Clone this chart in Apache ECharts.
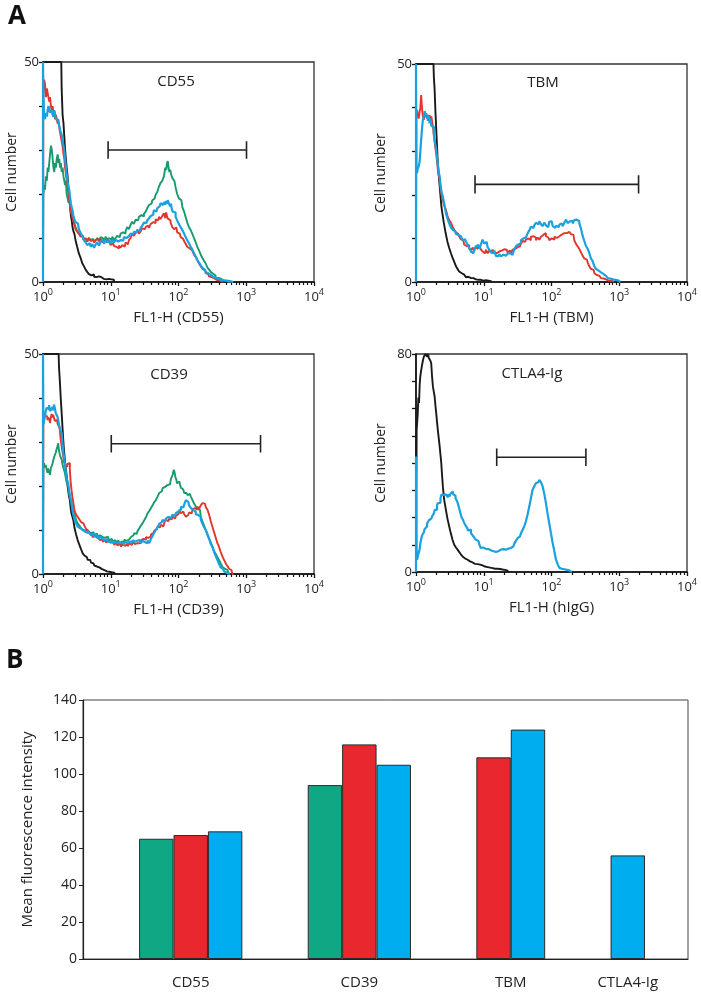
<!DOCTYPE html>
<html><head><meta charset="utf-8">
<script src="https://cdn.jsdelivr.net/npm/echarts@6/dist/echarts.min.js"></script>
<style>html,body{margin:0;padding:0;background:#fff}#c{width:701px;height:998px}</style>
</head><body><div id="c"></div>
<script>
// ---------- Panel A: flow cytometry histograms (x = FL1-H log channel, 0..1024 = 10^0..10^4) ----------
const panelTitles = ['CD55', 'TBM', 'CD39', 'CTLA4-Ig'];
const xAxisNames = ['FL1-H (CD55)', 'FL1-H (TBM)', 'FL1-H (CD39)', 'FL1-H (hIgG)'];
const yMaxes = [50, 50, 50, 80];
const decadeChannels = [0, 256, 512, 768, 1024];

const cd55Black = [[0,0],[0,50],[69,50],[72,44],[76,38],[79,36],[82,33],[85,30],[88,28],[91,26],[95,24],[98,21],[101,19],[104,17],[107,15],[110,14],[113,12.5],[117,11.5],[120,11],[126,9.5],[132,8],[139,6.5],[145,5.5],[151,4.3],[158,3.6],[164,2.8],[170,2.3],[177,1.8],[183,1.5],[190,1.7],[196,1.2],[202,1.1],[208,1.3],[215,0.9],[221,1.1],[227,0.7],[234,0.8],[240,0.6],[246,0.7],[252,0.5],[259,0.6],[265,0.5],[271,0]];
const cd55Green = [[0,0],[3,20],[6,22],[9,21],[13,24],[16,23],[19,26],[22,25],[25,27],[28,29],[32,31],[35,30],[38,28],[41,26],[44,25],[47,27],[50,26],[54,28],[57,29],[60,27],[63,28],[66,26],[69,27],[72,25],[76,26],[79,24],[82,23],[85,22],[88,23],[91,20],[95,19],[98,18],[101,18.6],[104,17],[107,16],[110,15.6],[113,15],[116,14],[120,13.5],[126,12.5],[132,11.5],[139,11],[145,10.3],[151,10.5],[158,9.5],[164,10],[170,9.2],[177,10],[183,9.5],[190,9.8],[196,9],[202,9.5],[208,10],[215,9.4],[221,10.2],[227,9.9],[234,9.2],[240,10.3],[246,9.5],[252,10],[259,9.6],[265,10.3],[271,9.5],[277,10],[284,10.5],[290,10.2],[296,11],[303,11.3],[309,11],[315,11.5],[321,12.5],[328,12],[334,13],[340,13.7],[347,13.2],[353,14.2],[359,14],[366,14.8],[372,15.2],[378,14.9],[385,15.5],[391,16],[397,16.8],[404,17.5],[410,17.8],[416,18.6],[422,19],[429,19.8],[435,20.5],[441,21.7],[447,22.5],[454,23],[460,24],[464,26],[467,25.5],[470,27],[473,27.5],[476,26],[479,25],[482,25.5],[485,24.7],[488,24],[492,23.5],[495,23.2],[498,23],[504,21.5],[510,20],[517,19],[523,18.6],[530,17],[536,16],[542,14.8],[548,13.5],[555,12.5],[561,11.8],[567,11],[574,10],[580,9],[586,8],[593,7.2],[599,6.2],[605,5.5],[612,4.8],[618,4.2],[624,3.3],[631,2.8],[637,2.3],[643,1.9],[649,1.5],[655,1],[662,0.9],[668,0.8],[674,0.5],[681,0.4],[694,0.2],[706,0]];
const cd55Red = [[0,0],[3,44],[6,46],[9,45],[13,42],[16,44],[19,43],[22,42.9],[25,41],[28,42],[32,40],[35,39],[38,40],[41,38],[44,39],[47,37],[50,38],[54,37.6],[57,36],[60,36.5],[63,35.3],[66,34],[69,33],[72,32],[76,30.8],[79,29],[82,28],[85,26],[88,24.7],[91,23],[95,22],[98,20],[101,19],[104,17.5],[107,16],[113,15],[120,13.5],[126,12],[132,11.5],[139,11],[145,10.5],[151,10.3],[158,9.5],[164,9.8],[170,9.2],[177,10],[183,9.3],[190,9.6],[196,9],[202,9.5],[208,9.8],[215,9.2],[221,9.8],[227,9],[234,9.5],[240,9.6],[246,9.3],[252,9.2],[259,8.4],[265,8.8],[271,8.2],[277,8],[284,7.6],[290,8.3],[296,7.8],[303,8.4],[309,8],[315,9],[321,8.6],[328,9.5],[334,10],[340,11],[347,10.5],[353,11.2],[359,11.8],[366,11],[372,11.5],[378,12.2],[385,12],[391,12.5],[397,12.8],[404,12.3],[410,13.2],[416,13.6],[422,13.4],[429,14.2],[435,14],[441,14.8],[447,14.3],[454,15],[460,15.6],[464,14.5],[467,15.8],[470,15],[473,14.4],[479,14],[485,13.5],[492,12.5],[498,12],[504,12.4],[510,11.3],[517,11],[523,10.2],[530,9.8],[536,9.3],[542,8.7],[548,8],[555,7.6],[561,7.2],[567,6.8],[574,6.2],[580,5.7],[586,5],[593,4.2],[599,3.6],[605,3],[612,2.6],[618,2],[624,1.8],[631,1.3],[637,1.1],[643,0.9],[649,0.7],[655,0.5],[662,0.4],[668,0.2],[681,0]];
const cd55Blue = [[0,0],[0,50],[3,42],[6,38],[9,37],[13,38.4],[16,37.6],[19,39],[22,40],[25,39.5],[28,38.5],[32,38.4],[35,39],[38,38],[41,37.5],[44,39],[47,38.2],[50,37],[54,37.4],[57,36.8],[60,36],[63,35.5],[66,34.5],[69,34],[72,33.5],[76,32.3],[79,31],[82,29.8],[85,28],[88,26.2],[91,24.5],[95,22.8],[98,21.5],[101,20.9],[104,19.2],[107,17.8],[110,17],[113,16.3],[117,15],[120,14.3],[126,13.6],[132,13.3],[139,12],[145,11.2],[151,10.5],[158,9.5],[164,9],[170,8.4],[177,8.8],[183,8],[190,8.6],[196,7.8],[202,8.5],[208,9],[215,8.3],[221,9.2],[227,9.5],[234,8.7],[240,9.6],[246,9],[252,9.4],[259,8.8],[265,9.5],[271,9],[277,9.6],[284,9.2],[290,9.5],[296,9.8],[303,9.4],[309,10.2],[315,10],[321,10.4],[328,10.2],[334,11],[340,10.8],[347,11.4],[353,11.2],[359,11.8],[366,11.6],[372,12.3],[378,12.8],[385,13.5],[391,13.4],[397,14],[404,14.5],[410,15],[416,15.3],[422,16.3],[429,16],[435,16.8],[441,17.2],[447,17.9],[454,17.5],[460,18.2],[464,17.6],[467,18.4],[470,17.8],[473,18.6],[476,18],[479,18.4],[482,17.2],[485,17.8],[488,16.6],[492,16],[495,15.6],[498,15.8],[504,14.8],[510,14],[517,13.2],[523,12.5],[530,11.8],[536,11],[542,10.2],[548,9.5],[555,8.8],[561,8],[567,7.4],[574,6.5],[580,5.8],[586,5],[593,4.4],[599,3.8],[605,3.2],[612,2.8],[618,2.3],[624,2],[631,1.6],[637,1.3],[643,1.2],[649,1],[655,0.8],[662,0.7],[668,0.5],[674,0.6],[681,0.4],[694,0.3],[706,0.2],[719,0]];

const tbmBlack = [[0,0],[0,50],[66,50],[69,47],[72,44],[75,39],[78,35],[81,31],[84,27.3],[88,24.5],[91,21.9],[94,19.8],[97,17.6],[100,16.2],[103,15],[107,13.6],[110,12.4],[113,11.4],[116,10.5],[122,9.2],[129,7.8],[135,6.6],[141,5.6],[148,4.6],[154,3.6],[160,3],[166,2.4],[173,2],[179,1.7],[185,1.4],[192,1.1],[198,1.2],[204,0.9],[211,0.8],[217,0.9],[223,0.6],[230,0.7],[236,0.5],[242,0.5],[248,0.6],[255,0.3],[261,0.4],[267,0.4],[274,0.3],[280,0.2],[286,0]];
const tbmRed = [[0,0],[3,38],[5,39.5],[8,38.5],[12,37.5],[15,37.2],[18,40],[21,42.9],[24,40],[28,38],[31,37.2],[34,38.5],[37,37.8],[40,38.7],[44,37.5],[47,38.3],[50,37.4],[53,38.3],[56,37],[60,38],[63,36.5],[66,35.5],[69,33.5],[72,32],[75,30.5],[78,29.5],[81,27.5],[84,25.8],[88,24.4],[91,23.4],[94,21.5],[97,20.2],[100,19.5],[103,18.9],[107,17.8],[110,17.2],[116,16.6],[122,15.2],[129,14.2],[135,13.6],[141,12.7],[148,12],[154,11.4],[160,11],[166,10.5],[173,9.8],[179,9.5],[185,8.6],[192,8.2],[198,8.5],[204,7.6],[211,7.4],[217,7.9],[223,7.2],[230,8.1],[236,7.6],[242,8.4],[248,7.5],[255,7],[261,6.6],[267,7.4],[274,6.6],[280,7.3],[286,6.8],[293,7.4],[299,6.8],[305,6.6],[311,7],[318,6.6],[324,7.2],[330,7.5],[337,7.2],[343,7.4],[349,6.8],[356,7.2],[362,6.6],[368,7.4],[375,7.6],[381,8],[387,8.4],[393,8.2],[400,8.8],[406,9.4],[412,9.2],[419,9.7],[425,10],[431,9.6],[437,10.4],[444,10.5],[450,10.2],[456,9.6],[463,10.2],[469,9.7],[475,10.4],[481,10.8],[488,11.2],[494,10.5],[500,10.2],[507,9.6],[513,10],[520,9.7],[526,10.4],[532,10.1],[539,10.5],[545,10.2],[551,10.9],[557,11.2],[564,10.8],[570,11.2],[576,11.5],[582,11.6],[589,11],[595,10.8],[601,9.6],[607,8.8],[614,8.2],[620,7.6],[627,6.8],[633,6],[639,5.4],[646,5.1],[652,4.4],[658,3.6],[664,3],[671,2.8],[677,2],[683,1.6],[690,1.4],[696,1.1],[702,0.9],[709,0.8],[715,0.6],[721,0.5],[728,0.3],[734,0.3],[747,0]];
const tbmBlue = [[0,0],[0,50],[3,26],[5,25],[8,26],[12,26.5],[15,27.5],[18,30],[21,32.6],[24,35],[28,37.2],[31,38],[34,39.2],[37,38.6],[40,39],[44,38],[47,37],[50,38.2],[53,36.4],[56,37.5],[60,35.8],[63,36.2],[66,35.6],[69,34],[72,32.5],[75,31.4],[78,30.3],[81,28.5],[84,27],[88,25.2],[91,24.2],[94,22.4],[97,21],[100,20.2],[103,19.6],[107,18.5],[110,17.4],[116,15.8],[122,14.6],[129,13.4],[135,12.5],[141,12],[148,11.6],[154,11],[160,10.8],[166,10.5],[173,10.2],[179,9.6],[185,9.8],[192,9.3],[198,8.6],[204,7.8],[211,7],[217,6.6],[223,7.5],[230,8.2],[236,8.5],[242,7.6],[248,8.6],[255,9.7],[261,8.8],[267,9.2],[274,8],[280,7.4],[286,6.8],[293,6.6],[299,7.2],[305,6],[311,5.9],[318,6.4],[324,5.9],[330,6.3],[337,6],[343,6.3],[349,6.5],[356,6.6],[362,6.2],[368,6.6],[375,7.6],[381,8.2],[387,8.6],[393,8.9],[400,9.6],[406,10],[412,10.2],[419,10.5],[425,11.2],[431,11.8],[437,12.7],[444,12.4],[450,13],[456,13.6],[463,13.2],[469,13.9],[475,13.3],[481,12.8],[488,13.6],[494,13],[500,12.6],[507,13.8],[513,13.9],[520,12.8],[526,12.4],[532,12.9],[539,12.6],[545,13.2],[551,13.4],[557,12.8],[564,13.6],[570,14.3],[576,13.5],[582,13.9],[589,14],[595,13.4],[601,14.2],[607,14.3],[614,14],[620,13.5],[627,12.2],[633,10.5],[639,9.4],[646,8.2],[652,7.6],[658,6.6],[664,5.4],[671,4.8],[677,3.6],[683,3],[690,2.6],[696,2.2],[702,2],[709,1.8],[715,1.4],[721,1.1],[728,0.9],[734,0.8],[740,0.6],[747,0.5],[753,0.5],[759,0.4],[766,0.2],[772,0]];

const cd39Black = [[0,0],[0,50],[59,50],[62,47],[65,44],[69,40],[72,36.6],[75,33.5],[78,30.5],[81,28],[84,26],[87,24.2],[90,22.9],[94,20.5],[97,18.8],[100,17.6],[103,16.8],[106,15],[109,13.8],[113,13],[116,12.3],[122,10.5],[128,9],[134,7.7],[141,6.6],[147,5.6],[153,4.7],[160,4.2],[166,3.8],[172,3.2],[178,3.2],[185,2.6],[191,2.4],[197,1.9],[204,1.7],[210,1.5],[216,1.2],[223,1.1],[229,0.9],[235,0.8],[241,0.6],[248,0.5],[254,0.4],[260,0.4],[266,0.3],[273,0]];
const cd39Green = [[0,0],[3,24],[5,25.2],[8,24.2],[12,24.8],[15,24.4],[18,23],[21,24],[25,23.7],[28,22.5],[31,24],[34,23.6],[37,25],[40,25.2],[43,26.5],[46,27],[50,27.5],[53,28.4],[56,29],[59,29.7],[62,28],[65,27.2],[69,26.5],[72,26],[75,25],[78,24.2],[81,23.7],[84,23],[87,22],[90,21],[94,20.5],[97,19.9],[100,18.5],[103,17.6],[106,17],[109,16.1],[113,15],[116,14.2],[122,13.5],[128,12.3],[134,11.5],[141,11],[147,10.4],[153,10],[160,9.8],[166,9.4],[172,9.6],[178,9.3],[185,9],[191,9.5],[197,8.8],[204,9.2],[210,8.6],[216,8.8],[223,8.4],[229,8.7],[235,8.2],[241,8.5],[248,8.1],[254,7.6],[260,8],[266,7.4],[273,7.7],[279,7.2],[285,7.6],[292,7],[298,7.4],[304,7.2],[310,7.8],[317,7.5],[323,7.9],[329,7.7],[336,8.4],[342,8.8],[348,9.3],[354,9.1],[361,9.8],[367,10.4],[373,11],[379,11.5],[386,12.2],[392,12.9],[398,13.8],[405,14.3],[411,15],[417,15.6],[423,16.3],[430,16.8],[436,17.6],[442,18.4],[449,18.8],[455,19.5],[461,19.8],[467,20.2],[474,20.6],[480,20.4],[486,21.5],[493,22.5],[496,23.7],[499,23],[502,22],[505,21.5],[508,20.6],[512,21],[518,20.6],[524,19.6],[530,19.2],[537,18.4],[543,18.4],[549,17.9],[555,18.2],[562,17.6],[568,16.8],[574,16],[580,15.4],[587,14.8],[593,14.6],[599,13.2],[605,12],[612,11],[618,10],[624,9],[631,8],[637,7.2],[643,6.2],[650,5.2],[656,4.5],[662,3.8],[668,3.2],[675,2.4],[681,1.6],[687,1.2],[694,0.9],[700,0.5],[706,0]];
const cd39Red = [[0,0],[3,34],[5,36.6],[8,36],[12,36.2],[15,35.8],[18,35],[21,34.8],[25,35.5],[28,34.3],[31,35.6],[34,36.4],[37,35.6],[40,36.2],[43,35.5],[46,34.8],[50,35.2],[53,35],[56,34.2],[59,33.8],[62,33.5],[65,32.8],[69,30.5],[72,29],[75,27.8],[78,26.7],[81,25.5],[84,24.8],[87,24.4],[90,24.4],[94,25],[97,24.6],[100,25.2],[103,23.5],[106,21],[109,19.2],[113,17.6],[116,16.2],[122,14.5],[128,13.5],[134,13],[141,12.4],[147,11.8],[153,11.5],[160,11],[166,10.2],[172,9.8],[178,9.3],[185,8.9],[191,8.4],[197,8.6],[204,8.2],[210,7.8],[216,7.7],[223,7.9],[229,7.3],[235,7.8],[241,7.2],[248,7.5],[254,7.1],[260,7],[266,7.4],[273,6.6],[279,7.1],[285,6.5],[292,6.9],[298,6.2],[304,6.8],[310,6.4],[317,6.8],[323,6.3],[329,7],[336,6.6],[342,7.2],[348,6.8],[354,7],[361,7.4],[367,7],[373,7.6],[379,8],[386,7.8],[392,8.4],[398,8.2],[405,8.5],[411,9],[417,9.3],[423,9.8],[430,10.2],[436,10.8],[442,10.6],[449,11.2],[455,10.8],[461,11.6],[467,12.3],[474,12],[480,12.6],[486,12.4],[493,13],[499,12.6],[505,13.2],[512,13.6],[518,14.6],[524,13.8],[530,14.2],[537,13.6],[543,13],[549,13.4],[555,14],[562,13.8],[568,14.6],[574,15],[580,14.6],[587,15.3],[593,14.8],[599,15.6],[606,16.1],[612,16],[618,15.2],[625,14.6],[631,13.4],[637,12],[643,10.8],[650,9.5],[656,8.2],[662,7],[668,6.2],[675,5],[681,4],[687,3.2],[694,2.4],[700,1.8],[706,1.2],[712,0.9],[719,0]];
const cd39Blue = [[0,0],[0,50],[3,34],[6,35],[9,35.8],[12,37],[15,37.8],[18,38.1],[21,37.4],[25,38.4],[28,37],[31,36.6],[34,37.5],[37,38],[40,37.2],[43,38.5],[46,37.8],[50,36.6],[53,36.2],[56,35.8],[59,35],[62,34],[65,33.2],[69,32.5],[72,32],[75,30],[78,28],[81,26.4],[84,25.2],[87,23.5],[90,22],[94,21.2],[97,20.6],[100,19],[103,17.8],[106,17],[109,16.1],[113,14.5],[116,13.6],[122,12.4],[128,11.5],[134,10.8],[141,10.4],[147,10],[153,10],[160,9.6],[166,9.3],[172,9.8],[178,9.3],[185,8.8],[191,9.2],[197,8.6],[204,8.8],[210,8.1],[216,8.4],[223,8],[229,8.2],[235,7.6],[241,8],[248,7.4],[254,7.2],[260,7.6],[266,7],[273,7.3],[279,7],[285,7.4],[292,7],[298,7.3],[304,6.8],[310,7.2],[317,7],[323,6.7],[329,7.4],[336,7.2],[342,7.7],[348,7.3],[354,7.6],[361,7.2],[367,7.7],[373,7],[379,7.6],[386,7.2],[392,7],[398,7.6],[405,7],[411,8],[417,8.6],[423,9.4],[430,10],[436,10.6],[442,11.4],[449,11.8],[455,12.3],[461,12],[467,12.6],[474,13],[480,12.7],[486,13],[493,13.5],[499,13.2],[505,13.8],[512,14.2],[518,14.6],[524,15.3],[530,15.1],[537,15.8],[543,16.8],[549,16.4],[555,15.6],[562,15],[568,14.6],[574,14.2],[580,13.6],[587,13.4],[593,13],[599,12.4],[606,11.4],[612,10.6],[618,10],[625,9],[631,8],[637,6.8],[643,6.2],[650,5],[656,4],[662,3.2],[668,2.3],[675,1.5],[681,1.1],[687,0.6],[694,0.3],[706,0]];

const ctlaBlack = [[0,0],[5,52],[8,58],[10,64],[13,62],[15,69],[18,72],[21,74],[25,76],[28,77.8],[31,79],[34,79.6],[37,80],[40,80],[44,79],[47,80],[50,78.5],[53,79],[56,77.5],[59,76.6],[62,72],[66,68],[69,66],[72,64.3],[75,61],[78,58.2],[81,55],[84,52.1],[88,49],[91,46],[94,43],[97,40],[100,35.5],[103,31.4],[110,26.5],[116,22.8],[122,19.5],[129,16.7],[135,14],[141,11.8],[148,10],[154,9],[160,8.2],[166,7.4],[173,6.5],[179,5.7],[185,5],[192,4.5],[198,4.2],[204,3.9],[211,3.5],[217,3.2],[223,3],[230,2.9],[236,2.7],[242,2.7],[248,2.4],[255,2.2],[261,2],[267,1.8],[274,1.7],[280,1.6],[286,1.4],[293,1.3],[299,1.2],[305,1.2],[311,1],[318,1.1],[324,0.9],[330,0.8],[337,0.8],[343,0.5],[349,0]];
const ctlaBlue = [[0,0],[0,42.4],[2,30],[3,8],[5,4.5],[8,5],[12,7],[15,8.2],[18,10.5],[21,12],[25,13.5],[28,13],[31,14.5],[34,15.8],[37,16.5],[40,16.7],[44,17.8],[47,18.2],[50,19],[53,19.2],[56,19.6],[59,20],[63,20.4],[66,20.4],[69,21.5],[72,22.8],[75,23.4],[78,22.8],[81,24.5],[84,25.3],[88,26],[91,25.4],[94,27],[97,28.3],[100,27.6],[103,28.3],[107,28],[110,28.9],[113,28.4],[116,28.9],[119,27.7],[122,27.4],[125,28.5],[129,27.7],[132,28.8],[135,29],[138,29.5],[141,28.6],[144,29.2],[148,28],[151,27.1],[154,27.1],[157,26],[160,25.3],[163,24],[166,22.8],[170,21.6],[173,20.2],[176,19.8],[179,19.2],[182,18.4],[185,17.8],[188,17.2],[192,16.7],[195,16.2],[198,15.2],[204,15.6],[211,14.3],[217,13.4],[223,12.6],[230,11.8],[236,11.4],[242,10.2],[248,8.8],[255,9],[261,8.5],[267,8.2],[274,8.4],[280,8],[286,7.6],[293,7.6],[299,7.4],[305,8],[311,7.6],[318,8.2],[324,7.8],[330,8.4],[337,8.2],[343,8.2],[349,8.6],[356,8.8],[362,9.2],[368,9.4],[375,10.4],[381,11.5],[387,12.4],[393,13.1],[400,14.2],[406,15.5],[412,16.7],[418,18.5],[425,21],[431,24],[437,27],[444,30.2],[450,31.5],[456,32.6],[463,33],[469,33.8],[475,33],[482,31.4],[488,28.5],[494,25.3],[500,21.5],[507,17.9],[513,14.2],[520,10.6],[526,7.5],[532,4.5],[539,2.8],[545,1.5],[551,1.2],[557,1],[564,0.9],[570,0.8],[576,0.6],[582,0.5],[589,0]];

// Gate markers: [start channel, end channel, count level]
const gateStart = [246, 223, 258, 305];
const gateEnd = [769, 841, 822, 642];
const gateLevel = [30, 22.4, 29.6, 42.1];

// ---------- Panel B: mean fluorescence intensity ----------
const barCategories = ['CD55', 'CD39', 'TBM', 'CTLA4-Ig'];
const greenMFI = [65, 94, null, null];
const redMFI = [67, 116, 109, null];
const blueMFI = [69, 105, 124, 56];

// ---------- styling / layout ----------
const FONT = 'Open Sans';
const COL = { black: '#1a1a1a', green: '#179a6c', red: '#e0362c', blue: '#1aa2e0' };
const BARCOL = { green: '#10a785', red: '#e8282e', blue: '#00aeef' };
const histGrids = [
  { left: 43, top: 62, width: 271, height: 220 },
  { left: 416, top: 64, width: 271, height: 218 },
  { left: 43, top: 354, width: 271, height: 220 },
  { left: 416, top: 354, width: 271, height: 218 }
];
const yNameGaps = [24, 28, 24, 28];
const titlePos = [[176, 82], [543, 83], [169, 375], [532, 374]];
const capHalf = [2, 2.1, 2, 3.2];
const panelCurves = [
  [[cd55Black, 'black'], [cd55Green, 'green'], [cd55Red, 'red'], [cd55Blue, 'blue']],
  [[tbmBlack, 'black'], [tbmRed, 'red'], [tbmBlue, 'blue']],
  [[cd39Black, 'black'], [cd39Green, 'green'], [cd39Red, 'red'], [cd39Blue, 'blue']],
  [[ctlaBlack, 'black'], [ctlaBlue, 'blue']]
];

const minorChannels = [];
for (let d = 0; d < 4; d++) for (let k = 2; k <= 9; k++) minorChannels.push(256 * (d + Math.log10(k)));

const grid = [], xAxis = [], yAxis = [], series = [];
histGrids.forEach((g, i) => {
  grid.push(Object.assign({ show: true, borderColor: '#333', borderWidth: 1.3, backgroundColor: 'transparent' }, g));
  xAxis.push({
    type: 'value', gridIndex: i, min: 0, max: 1024,
    name: xAxisNames[i], nameLocation: 'middle', nameGap: 28,
    nameTextStyle: { fontFamily: FONT, fontSize: 15, color: '#222' },
    axisLine: { lineStyle: { color: '#111', width: 1.6 } },
    axisTick: { show: true, customValues: decadeChannels, length: 4, lineStyle: { color: '#111', width: 1.3 } },
    axisLabel: {
      customValues: decadeChannels, margin: 6,
      formatter: v => '{b|10}{s|' + Math.round(v / 256) + '}',
      rich: { b: { fontFamily: FONT, fontSize: 13, color: '#222' }, s: { fontFamily: FONT, fontSize: 9, color: '#222', verticalAlign: 'bottom', padding: [0, 0, 9, 0] } }
    },
    splitLine: { show: false }
  });
  xAxis.push({
    type: 'value', gridIndex: i, min: 0, max: 1024, position: 'bottom',
    axisLine: { show: false },
    axisTick: { show: true, customValues: minorChannels, length: 3, lineStyle: { color: '#111', width: 1.2 } },
    axisLabel: { show: false }, splitLine: { show: false }
  });
  const ymax = yMaxes[i];
  yAxis.push({
    type: 'value', gridIndex: i, min: 0, max: ymax, interval: 10,
    name: 'Cell number', nameLocation: 'middle', nameGap: yNameGaps[i],
    nameTextStyle: { fontFamily: FONT, fontSize: 14, color: '#222' },
    axisLine: { show: true, lineStyle: { color: '#111', width: 1.6 } },
    axisTick: { show: true, length: 4, lineStyle: { color: '#111', width: 1.3 } },
    axisLabel: { margin: 4, fontFamily: FONT, fontSize: 13, color: '#222', formatter: v => (v === 0 || v === ymax) ? String(v) : '' },
    splitLine: { show: false }
  });
  panelCurves[i].forEach(([data, c]) => {
    series.push({
      type: 'line', xAxisIndex: 2 * i, yAxisIndex: i, data: data, step: 'middle',
      symbol: 'none', clip: true, silent: true,
      lineStyle: { color: COL[c], width: c === 'blue' ? 2.2 : 1.9 }
    });
  });
  const a = gateStart[i], b = gateEnd[i], lv = gateLevel[i], h = capHalf[i];
  series.push({
    type: 'line', xAxisIndex: 2 * i, yAxisIndex: i, symbol: 'none', silent: true,
    data: [[a, lv + h], [a, lv - h], [a, lv], [b, lv], [b, lv + h], [b, lv - h]],
    lineStyle: { color: '#222', width: 1.6 }
  });
});

// Bar panel: bars of present series packed within each group, groups separated by a fixed gap
const barGrid = { left: 83, top: 700, width: 605, height: 259 };
const padL = 1.63, groupGap = 1.9, padR = 1.25;
const barSeriesDefs = [[greenMFI, 'green'], [redMFI, 'red'], [blueMFI, 'blue']];
let cursor = padL;
const groupCenters = [];
const barData = { green: [], red: [], blue: [] };
barCategories.forEach((cat, ci) => {
  const start = cursor;
  barSeriesDefs.forEach(([vals, c]) => {
    if (vals[ci] != null) { barData[c].push([cursor + 0.5, vals[ci]]); cursor += 1; }
  });
  groupCenters.push((start + cursor) / 2);
  cursor += (ci < barCategories.length - 1) ? groupGap : 0;
});
const totalUnits = cursor + padR;
const unitPx = barGrid.width / totalUnits;

grid.push(Object.assign({ show: true, borderColor: '#444', borderWidth: 1 }, barGrid));
xAxis.push({
  type: 'value', gridIndex: 4, min: 0, max: totalUnits,
  axisLine: { lineStyle: { color: '#222', width: 1.2 } },
  axisTick: { show: false }, splitLine: { show: false },
  axisLabel: {
    customValues: groupCenters, margin: 16, fontFamily: FONT, fontSize: 15, color: '#222',
    formatter: v => { let best = 0; groupCenters.forEach((g, k) => { if (Math.abs(g - v) < Math.abs(groupCenters[best] - v)) best = k; }); return barCategories[best]; }
  }
});
yAxis.push({
  type: 'value', gridIndex: 4, min: 0, max: 140, interval: 20,
  name: 'Mean fluorescence intensity', nameLocation: 'middle', nameGap: 48,
  nameTextStyle: { fontFamily: FONT, fontSize: 15, color: '#222' },
  axisLine: { show: true, lineStyle: { color: '#222', width: 1.2 } },
  axisTick: { show: true, length: 4, lineStyle: { color: '#222' } },
  axisLabel: { margin: 6, fontFamily: FONT, fontSize: 14, color: '#222' },
  splitLine: { show: false }
});
barSeriesDefs.forEach(([vals, c]) => {
  series.push({
    type: 'bar', xAxisIndex: 8, yAxisIndex: 4, data: barData[c],
    barWidth: unitPx, barGap: '-100%', silent: true,
    itemStyle: { color: BARCOL[c], borderColor: '#2a2a2a', borderWidth: 1 }
  });
});

const graphic = [
  { type: 'text', left: 8, top: 4, style: { text: 'A', fontFamily: FONT, fontSize: 26, fontWeight: 'bold', fill: '#111' } },
  { type: 'text', left: 6, top: 648, style: { text: 'B', fontFamily: FONT, fontSize: 26, fontWeight: 'bold', fill: '#111' } }
];
panelTitles.forEach((t, i) => {
  graphic.push({ type: 'text', x: titlePos[i][0], y: titlePos[i][1], style: { text: t, fontFamily: FONT, fontSize: 15, fill: '#222', textAlign: 'center', textVerticalAlign: 'middle' } });
});

const chart = echarts.init(document.getElementById('c'), null, { renderer: 'canvas' });
chart.setOption({ animation: false, backgroundColor: '#fff', grid, xAxis, yAxis, series, graphic });
</script></body></html>
